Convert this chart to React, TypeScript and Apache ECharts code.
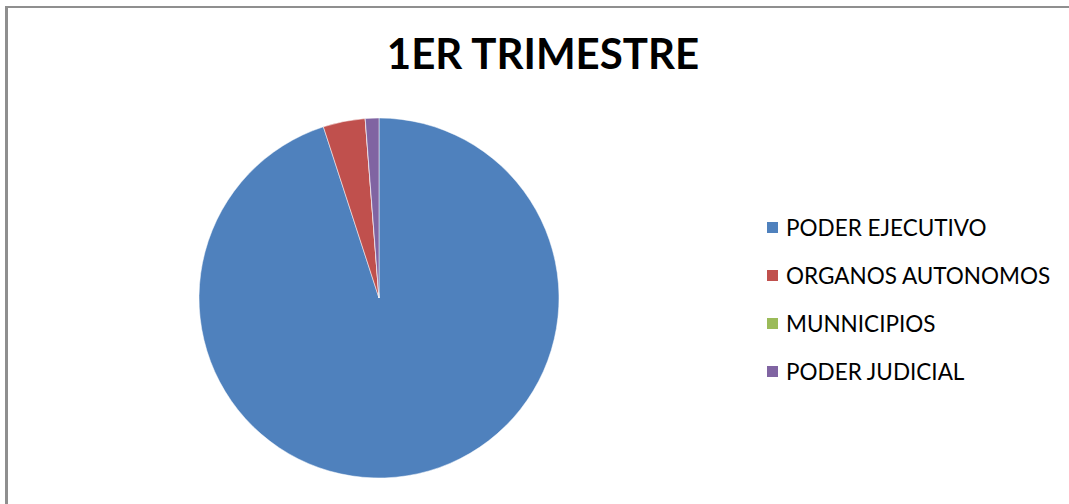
import React, { useEffect, useRef } from "react";
import * as echarts from "echarts";

const categories = ["PODER EJECUTIVO", "ORGANOS AUTONOMOS", "MUNNICIPIOS", "PODER JUDICIAL"];
const values = [95.0, 3.78, 0, 1.22];
const colors = ["#4F81BD", "#C0504D", "#9BBB59", "#8064A2"];
const title = "1ER TRIMESTRE";

export default function App() {
  const ref = useRef<HTMLDivElement>(null);
  useEffect(() => {
    const chart = echarts.init(ref.current!, null, { renderer: "svg" });
    chart.setOption({
      animation: false,
      backgroundColor: "#fff",
      title: {
        text: title,
        left: 543,
        textAlign: "center",
        top: 32,
        padding: 0,
        textStyle: { fontFamily: "Lato", fontWeight: "bold", fontSize: 42, color: "#000" },
      },
      legend: {
        orient: "vertical",
        left: 765,
        top: 216,
        padding: 0,
        icon: "rect",
        itemWidth: 13,
        itemHeight: 13,
        itemGap: 25,
        data: categories,
        textStyle: { fontFamily: "Lato", fontSize: 22.5, color: "#000", lineHeight: 23, padding: [0, 0, 0, 2] },
      },
      graphic: [
        { type: "line", shape: { x1: 6.5, y1: 6, x2: 6.5, y2: 504 }, style: { stroke: "#8f8f8f", lineWidth: 3 } },
        { type: "line", shape: { x1: 5, y1: 7, x2: 1069, y2: 7 }, style: { stroke: "#8f8f8f", lineWidth: 2 } },
      ],
      series: [
        {
          type: "pie",
          center: [379, 298],
          radius: 180,
          startAngle: 90,
          clockwise: true,
          label: { show: false },
          labelLine: { show: false },
          emphasis: { disabled: true },
          itemStyle: { borderColor: "#fff", borderWidth: 0.5 },
          data: categories.map((c, i) => ({ name: c, value: values[i], itemStyle: { color: colors[i] } })),
        },
      ],
    });
    return () => chart.dispose();
  }, []);
  return <div ref={ref} style={{ position: "absolute", left: 0, top: 0, width: 1069, height: 504 }} />;
}
